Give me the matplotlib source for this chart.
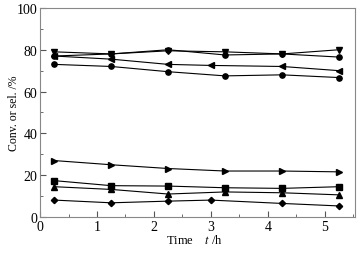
import matplotlib
matplotlib.use("Agg")
import matplotlib.pyplot as plt
from matplotlib.ticker import MultipleLocator

plt.rcParams["font.family"] = ["Liberation Serif", "DejaVu Serif"]
plt.rcParams["mathtext.fontset"] = "stix"

# time points (h)
t = [0.25, 1.25, 2.25, 3.25, 4.25, 5.25]
t_alt = [0.25, 1.25, 2.25, 3.0, 4.25, 5.25]

# upper group
s_down = [79, 78, 79.5, 79, 78, 80]
s_circ1 = [77, 78, 80, 77.5, 78, 76.5]
s_left = [77, 75.5, 73, 72.5, 72, 70]
s_circ2 = [73, 72, 69.5, 67.5, 68, 66.7]

# lower group
s_right = [27, 25, 23.2, 22, 22, 21.6]
s_square = [17.4, 15, 14.8, 14, 13.7, 14.5]
s_up = [14.5, 13.2, 11, 12, 11.6, 10.6]
s_diam = [8.1, 6.8, 7.6, 8.1, 6.5, 5.3]

fig = plt.figure(figsize=(3.64, 2.55), dpi=100)
ax = fig.add_axes([0.11, 0.145, 0.865, 0.82])

kw = dict(color="black", linewidth=0.8, markersize=3.8)
ax.plot(t, s_down, marker="v", **kw)
ax.plot(t, s_circ1, marker="o", **kw)
ax.plot(t_alt, s_left, marker="<", **kw)
ax.plot(t, s_circ2, marker="o", **kw)
ax.plot(t, s_right, marker=">", **kw)
ax.plot(t, s_square, marker="s", **kw)
ax.plot(t, s_up, marker="^", **kw)
ax.plot(t_alt, s_diam, marker="D", markersize=3.2, color="black", linewidth=0.8)

ax.set_xlim(0, 5.53)
ax.set_ylim(0, 100)
ax.xaxis.set_major_locator(MultipleLocator(1))
ax.xaxis.set_minor_locator(MultipleLocator(0.5))
ax.yaxis.set_major_locator(MultipleLocator(20))
ax.yaxis.set_minor_locator(MultipleLocator(10))
ax.tick_params(which="both", direction="in", top=False, right=False,
               labelsize=10, color="#555555", pad=2)
ax.tick_params(which="major", length=4)
ax.tick_params(which="minor", length=2.5)
for sp in ax.spines.values():
    sp.set_color("#888888")
    sp.set_linewidth(0.8)

ax.set_ylabel("Conv. or sel. /%", fontsize=8.5)
ax.yaxis.set_label_coords(-0.063, 0.5)
ax.set_xlabel("Time    $\\it{t}$ /h", fontsize=9)
ax.xaxis.set_label_coords(0.49, -0.075)

fig.savefig("out.png", dpi=100)
